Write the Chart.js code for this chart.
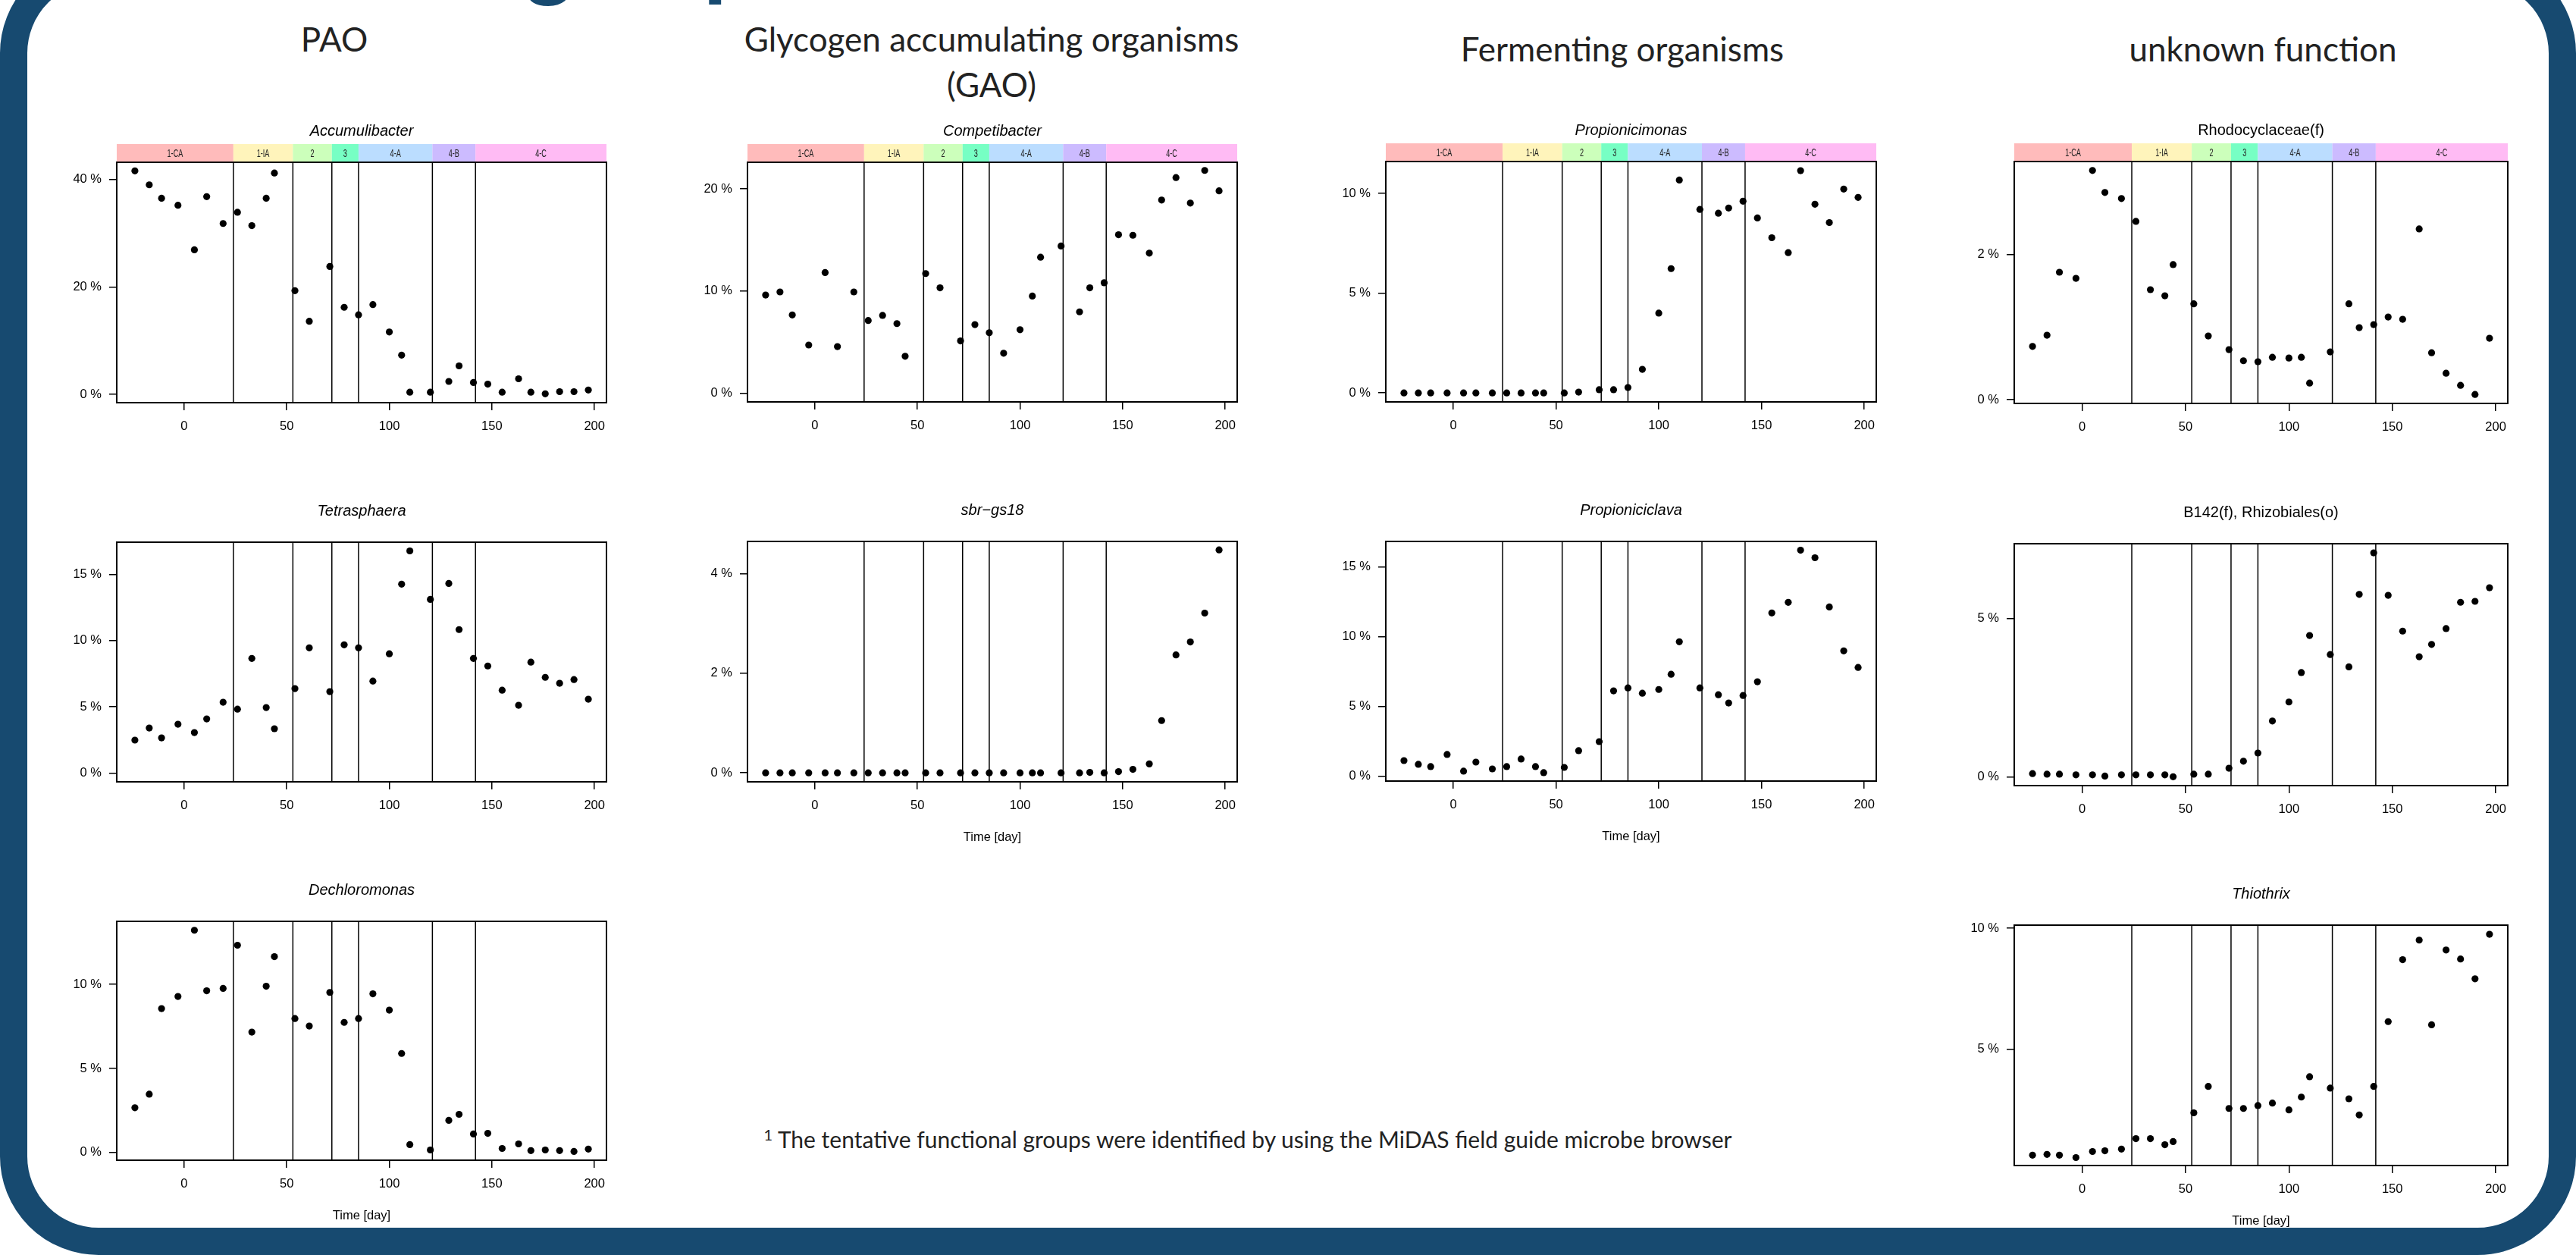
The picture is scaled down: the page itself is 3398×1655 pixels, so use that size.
<!DOCTYPE html>
<html>
<head>
<meta charset="utf-8">
<script src="https://cdn.jsdelivr.net/npm/chart.js@4.4.1/dist/chart.umd.min.js"></script>
<style>
html, body { margin: 0; padding: 0; background: #fff; }
#page { position: relative; width: 3398px; height: 1655px; overflow: hidden; background: #fff; }
.frame { position: absolute; left: 0; top: -60px; width: 3398px; height: 1715px; box-sizing: border-box;
         border: 36px solid #174a70; border-radius: 130px; }
.hdr { position: absolute; font-family: Lato, "Open Sans", sans-serif; font-size: 44px; line-height: 44px;
       color: #222; text-align: center; white-space: nowrap; width: 900px; }
.note { position: absolute; font-family: Lato, "Open Sans", sans-serif; font-size: 30px; line-height: 30px;
        color: #222; text-align: center; white-space: nowrap; width: 1800px; }
.note sup { font-size: 20px; vertical-align: 10px; }
#headline { position: absolute; font-family: Lato, sans-serif; font-weight: 900; font-size: 115px;
            line-height: 115px; color: #174a70; white-space: nowrap; }
.panel { position: absolute; }
</style>
</head>
<body>
<div id="page">
  <div class="frame"></div>
  <div id="headline">Functional groups</div>
  <div class="hdr" style="left:-9px; top:29px;">PAO</div>
  <div class="hdr" style="left:858px; top:29px;">Glycogen accumulating organisms</div>
  <div class="hdr" style="left:858px; top:89px;">(GAO)</div>
  <div class="hdr" style="left:1690px; top:42px;">Fermenting organisms</div>
  <div class="hdr" style="left:2535px; top:42px;">unknown function</div>
  <div class="note" style="left:746px; top:1481px;"><sup>1</sup> The tentative functional groups were identified by using the MiDAS field guide microbe browser</div>
</div>
<script>
// sampling days (x) shared by every panel
const days = [-24, -17, -11, -3, 5, 11, 19, 26, 33, 40, 44, 54, 61, 71, 78, 85,
              92, 100, 106, 110, 120, 129, 134, 141, 148, 155, 163, 169, 176, 183, 190, 197];

// reactor phases
const phaseBounds = [24, 53, 72, 85, 121, 142];
const phaseLabels = ['1-CA', '1-IA', '2', '3', '4-A', '4-B', '4-C'];
const phaseColors = ['#ffbbbb', '#fff4bb', '#ccffbb', '#77ffc4', '#bbddff', '#ccbbff', '#ffbbf4'];

const xTicks = [0, 50, 100, 150, 200];
const xLim = [-32.84, 205.84];

// relative abundance [%]
const accumulibacter = [41.6, 39.0, 36.5, 35.2, 26.9, 36.8, 31.8, 33.9, 31.4, 36.5, 41.2, 19.3, 13.6, 23.8, 16.2, 14.8,
                        16.7, 11.6, 7.3, 0.4, 0.4, 2.4, 5.3, 2.2, 1.9, 0.4, 2.9, 0.4, 0.1, 0.5, 0.5, 0.8];
const competibacter = [9.6, 9.9, 7.65, 4.7, 11.8, 4.55, 9.9, 7.1, 7.6, 6.8, 3.6, 11.7, 10.3, 5.1, 6.7, 5.9,
                       3.9, 6.2, 9.5, 13.3, 14.4, 7.95, 10.3, 10.8, 15.5, 15.45, 13.7, 18.9, 21.1, 18.6, 21.8, 19.8];
const propionicimonas = [0, 0, 0, 0, 0, 0, 0, 0, 0, 0, 0, 0, 0.04, 0.16, 0.16, 0.27,
                         1.18, 4.0, 6.23, 10.67, 9.2, 9.01, 9.27, 9.61, 8.77, 7.78, 7.03, 11.14, 9.46, 8.54, 10.22, 9.8];
const rhodocyclaceae = [0.735, 0.889, 1.756, 1.672, 3.157, 2.854, 2.77, 2.456, 1.516, 1.432, 1.861, 1.321, 0.878, 0.69, 0.537, 0.523,
                        0.585, 0.575, 0.585, 0.23, 0.659, 1.321, 0.993, 1.035, 1.139, 1.108, 2.352, 0.648, 0.366, 0.199, 0.073, 0.847];
const tetrasphaera = [2.48, 3.39, 2.65, 3.68, 3.05, 4.08, 5.34, 4.82, 8.65, 4.94, 3.34, 6.37, 9.45, 6.14, 9.68, 9.45,
                      6.94, 9.0, 14.26, 16.77, 13.11, 14.31, 10.83, 8.65, 8.08, 6.25, 5.11, 8.37, 7.22, 6.77, 7.05, 5.57];
const sbrGs18 = [0, 0, 0, 0, 0, 0, 0, 0, 0, 0, 0, 0, 0, 0, 0, 0,
                 0, 0, 0, 0, 0, 0, 0.01, 0, 0.025, 0.07, 0.18, 1.05, 2.37, 2.63, 3.21, 4.48];
const propioniciclava = [1.12, 0.85, 0.69, 1.56, 0.36, 1.01, 0.52, 0.69, 1.23, 0.69, 0.25, 0.63, 1.83, 2.48, 6.12, 6.33,
                         5.95, 6.22, 7.31, 9.64, 6.33, 5.84, 5.25, 5.79, 6.77, 11.71, 12.47, 16.21, 15.67, 12.14, 8.99, 7.8];
const b142 = [0.10, 0.08, 0.08, 0.06, 0.06, 0.02, 0.06, 0.06, 0.06, 0.06, 0.0, 0.08, 0.08, 0.27, 0.49, 0.75,
              1.76, 2.36, 3.29, 4.46, 3.86, 3.47, 5.76, 7.07, 5.73, 4.6, 3.79, 4.18, 4.68, 5.51, 5.54, 5.97];
const dechloromonas = [2.66, 3.47, 8.56, 9.28, 13.22, 9.62, 9.76, 12.33, 7.16, 9.89, 11.65, 7.97, 7.52, 9.52, 7.74, 7.97,
                       9.44, 8.47, 5.89, 0.47, 0.15, 1.91, 2.27, 1.1, 1.14, 0.24, 0.51, 0.11, 0.15, 0.11, 0.06, 0.2];
const thiothrix = [0.62, 0.65, 0.62, 0.52, 0.77, 0.80, 0.87, 1.30, 1.30, 1.05, 1.18, 2.37, 3.46, 2.55, 2.55, 2.67,
                   2.77, 2.49, 3.02, 3.86, 3.39, 2.95, 2.28, 3.46, 6.14, 8.70, 9.51, 6.01, 9.10, 8.73, 7.91, 9.75];

// y axis limits and tick values per panel
const accLim = [-1.55, 43.2],   accTicks = [0, 20, 40];
const compLim = [-0.87, 22.6],  compTicks = [0, 10, 20];
const pmonLim = [-0.45, 11.6],  pmonTicks = [0, 5, 10];
const rhoLim = [-0.05, 3.28],   rhoTicks = [0, 2];
const tetLim = [-0.67, 17.43],  tetTicks = [0, 5, 10, 15];
const sbrLim = [-0.18, 4.65],   sbrTicks = [0, 2, 4];
const pclLim = [-0.35, 16.84],  pclTicks = [0, 5, 10, 15];
const b142Lim = [-0.28, 7.36],  b142Ticks = [0, 5];
const decLim = [-0.46, 13.75],  decTicks = [0, 5, 10];
const thioLim = [0.19, 10.13],  thioTicks = [5, 10];

// where each plot box sits on the page: [left, top, width, height]
const panels = [
  { title: 'Accumulibacter', italic: true, strip: true, values: accumulibacter, yLim: accLim, yTicks: accTicks, box: [154, 214, 646, 317] },
  { title: 'Competibacter', italic: true, strip: true, values: competibacter, yLim: compLim, yTicks: compTicks, box: [986, 214, 646, 316] },
  { title: 'Propionicimonas', italic: true, strip: true, values: propionicimonas, yLim: pmonLim, yTicks: pmonTicks, box: [1828, 213, 647, 317] },
  { title: 'Rhodocyclaceae(f)', italic: false, strip: true, values: rhodocyclaceae, yLim: rhoLim, yTicks: rhoTicks, box: [2657, 213, 651, 319] },
  { title: 'Tetrasphaera', italic: true, values: tetrasphaera, yLim: tetLim, yTicks: tetTicks, box: [154, 715, 646, 316] },
  { title: 'sbr\u2212gs18', italic: true, values: sbrGs18, yLim: sbrLim, yTicks: sbrTicks, box: [986, 714, 646, 317], xlab: true },
  { title: 'Propioniciclava', italic: true, values: propioniciclava, yLim: pclLim, yTicks: pclTicks, box: [1828, 714, 647, 316], xlab: true },
  { title: 'B142(f), Rhizobiales(o)', italic: false, values: b142, yLim: b142Lim, yTicks: b142Ticks, box: [2657, 717, 651, 319] },
  { title: 'Dechloromonas', italic: true, values: dechloromonas, yLim: decLim, yTicks: decTicks, box: [154, 1215, 646, 315], xlab: true },
  { title: 'Thiothrix', italic: true, values: thiothrix, yLim: thioLim, yTicks: thioTicks, box: [2657, 1220, 651, 317], xlab: true }
];

const PAD_L = 90, PAD_R = 20, PAD_T = 70, PAD_B = 100;
const FONT = '"Liberation Sans", Arial, sans-serif';

// box, phase lines, phase strip and title, drawn like the R figure
const rPlot = {
  id: 'rPlot',
  beforeDatasetsDraw(chart) {
    const { ctx, chartArea: a, scales: { x } } = chart;
    ctx.save();
    ctx.strokeStyle = '#000';
    ctx.lineWidth = 1.5;
    phaseBounds.forEach(d => {
      const px = x.getPixelForValue(d);
      ctx.beginPath();
      ctx.moveTo(px, a.top);
      ctx.lineTo(px, a.bottom);
      ctx.stroke();
    });
    ctx.restore();
  },
  afterDraw(chart, args, opts) {
    const { ctx, chartArea: a, scales: { x } } = chart;
    ctx.save();
    if (opts.strip) {
      const stripH = 24;
      const edges = [x.min].concat(phaseBounds, [x.max]);
      for (let i = 0; i < phaseLabels.length; i++) {
        const x0 = x.getPixelForValue(edges[i]);
        const x1 = x.getPixelForValue(edges[i + 1]);
        ctx.fillStyle = phaseColors[i];
        ctx.fillRect(x0, a.top - stripH, x1 - x0, stripH);
        ctx.save();
        ctx.translate((x0 + x1) / 2, a.top - stripH / 2);
        ctx.scale(0.65, 1);
        ctx.fillStyle = '#222';
        ctx.font = '14px ' + FONT;
        ctx.textAlign = 'center';
        ctx.textBaseline = 'middle';
        ctx.fillText(phaseLabels[i], 0, 1);
        ctx.restore();
      }
    }
    ctx.strokeStyle = '#000';
    ctx.lineWidth = 2;
    ctx.strokeRect(a.left, a.top, a.right - a.left, a.bottom - a.top);
    ctx.fillStyle = '#000';
    ctx.font = (opts.italic ? 'italic ' : '') + '20px ' + FONT;
    ctx.textAlign = 'center';
    ctx.textBaseline = 'middle';
    ctx.fillText(opts.title, (a.left + a.right) / 2, a.top - 41);
    ctx.restore();
  }
};

const page = document.getElementById('page');

panels.forEach(p => {
  const [bx, by, bw, bh] = p.box;
  const wrap = document.createElement('div');
  wrap.className = 'panel';
  wrap.style.left = (bx - PAD_L) + 'px';
  wrap.style.top = (by - PAD_T) + 'px';
  const canvas = document.createElement('canvas');
  canvas.width = PAD_L + bw + PAD_R;
  canvas.height = PAD_T + bh + PAD_B;
  wrap.appendChild(canvas);
  page.appendChild(wrap);

  const tickFont = { family: FONT, size: 16.5 };
  new Chart(canvas, {
    type: 'scatter',
    data: {
      datasets: [{
        data: days.map((d, i) => ({ x: d, y: p.values[i] })),
        pointRadius: 4.6,
        pointBackgroundColor: '#000',
        pointBorderWidth: 0
      }]
    },
    options: {
      responsive: false,
      animation: false,
      devicePixelRatio: 1,
      layout: { padding: { top: PAD_T, right: PAD_R, left: 0, bottom: 0 } },
      plugins: {
        legend: { display: false },
        tooltip: { enabled: false },
        rPlot: { title: p.title, italic: p.italic, strip: !!p.strip }
      },
      scales: {
        x: {
          type: 'linear',
          min: xLim[0],
          max: xLim[1],
          afterBuildTicks: s => { s.ticks = xTicks.map(v => ({ value: v })); },
          afterFit: s => { s.height = PAD_B; },
          grid: { drawOnChartArea: false, tickLength: 10, color: '#000', lineWidth: 1.5 },
          border: { display: false },
          ticks: { color: '#000', font: tickFont, padding: 12, maxRotation: 0, autoSkip: false },
          title: { display: !!p.xlab, text: 'Time [day]', color: '#000', font: tickFont, padding: { top: 0, bottom: 17 } }
        },
        y: {
          min: p.yLim[0],
          max: p.yLim[1],
          afterBuildTicks: s => { s.ticks = p.yTicks.map(v => ({ value: v })); },
          afterFit: s => { s.width = PAD_L; },
          grid: { drawOnChartArea: false, tickLength: 10, color: '#000', lineWidth: 1.5 },
          border: { display: false },
          ticks: { color: '#000', font: tickFont, padding: 10, callback: v => v + ' %' }
        }
      }
    },
    plugins: [rPlot]
  });
});

// headline above the box: only the descenders of "groups" show at the top edge
const head = document.getElementById('headline');
const mctx = document.createElement('canvas').getContext('2d');
mctx.font = '900 115px Lato';
head.style.left = (694 - mctx.measureText('Functional ').width) + 'px';
head.style.top = (-13 - 0.887 * 115) + 'px';
</script>
</body>
</html>
